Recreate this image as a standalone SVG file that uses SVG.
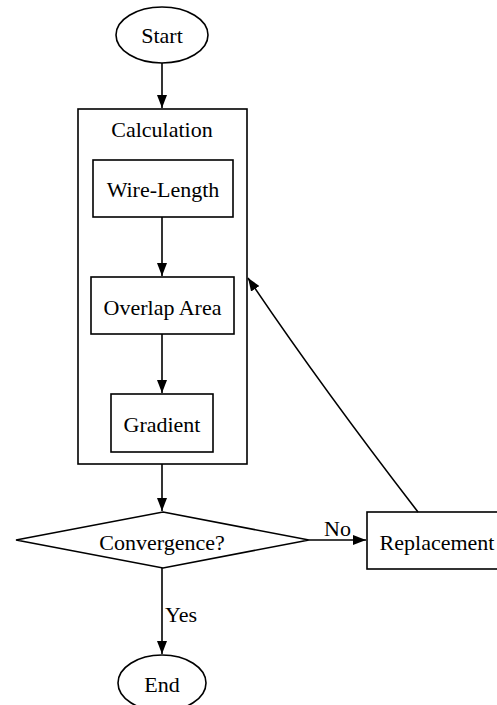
<svg xmlns="http://www.w3.org/2000/svg" width="497" height="705" viewBox="0 0 497 705">
<defs>
<style>
.s{fill:#fff;stroke:#000;stroke-width:1.6}
.c{fill:none;stroke:#000;stroke-width:1.6}
text{font-family:"Liberation Serif","DejaVu Serif","Times New Roman",serif;font-size:22px;fill:#000}
.t{text-anchor:middle}
.l{text-anchor:start}
</style>
<marker id="a" markerWidth="13" markerHeight="10" refX="13" refY="5" orient="auto" markerUnits="userSpaceOnUse">
<path d="M0,0 L13,5 L0,10 Z" fill="#000"/>
</marker>
</defs>
<rect width="497" height="705" fill="#fff"/>
<g id="cluster_calculation">
<rect class="s" x="78" y="109" width="169" height="355"/>
<text class="t" x="162" y="137">Calculation</text>
</g>
<g id="start">
<ellipse class="s" cx="162" cy="35" rx="46" ry="28"/>
<text class="t" x="162" y="43">Start</text>
</g>
<g id="wirelength">
<rect class="s" x="93" y="160" width="140" height="57"/>
<text class="t" x="163" y="197">Wire-Length</text>
</g>
<g id="overlap">
<rect class="s" x="91" y="277" width="143" height="57"/>
<text class="t" x="162.5" y="315">Overlap Area</text>
</g>
<g id="gradient">
<rect class="s" x="111" y="394" width="102" height="58"/>
<text class="t" x="162" y="432">Gradient</text>
</g>
<g id="convergence">
<polygon class="s" points="163,512 309,540 163,568 16,540"/>
<text class="t" x="162" y="550">Convergence?</text>
</g>
<g id="replacement">
<rect class="s" x="367" y="512" width="140" height="57"/>
<text class="t" x="437" y="550">Replacement</text>
</g>
<g id="end">
<ellipse class="s" cx="162" cy="683" rx="44" ry="28"/>
<text class="t" x="162" y="692">End</text>
</g>
<g id="connectors">
<line class="c" x1="162" y1="63" x2="162" y2="108" marker-end="url(#a)"/>
<line class="c" x1="162" y1="217" x2="162" y2="276" marker-end="url(#a)"/>
<line class="c" x1="162" y1="334" x2="162" y2="393" marker-end="url(#a)"/>
<line class="c" x1="162" y1="464" x2="162" y2="511" marker-end="url(#a)"/>
<line class="c" x1="309" y1="540" x2="366" y2="540" marker-end="url(#a)"/>
<text class="l" x="324" y="536">No</text>
<path class="c" d="M418,512 Q320,385 248,278" marker-end="url(#a)"/>
<line class="c" x1="162" y1="568" x2="162" y2="654" marker-end="url(#a)"/>
<text class="l" x="165" y="622">Yes</text>
</g>
</svg>
